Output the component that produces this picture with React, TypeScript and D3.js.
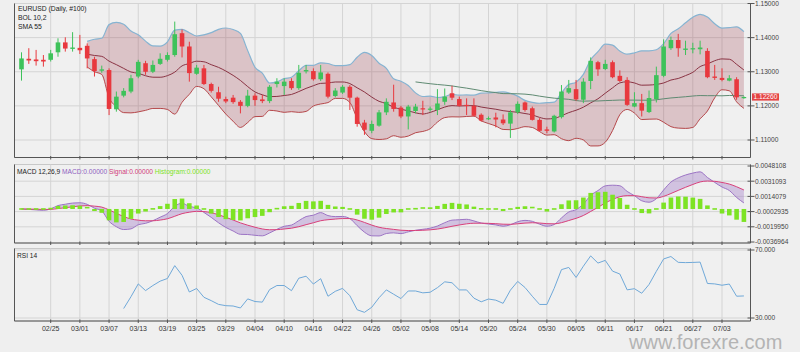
import React, { useEffect, useRef } from 'react';
import * as d3 from 'd3';

// EURUSD daily candles, 2019-02-19 .. 2019-07-08
const openP = [
  1.1307, 1.1338, 1.1336, 1.1335, 1.1335, 1.1357, 1.1386, 1.1367, 1.1370, 1.1376,
  1.1337, 1.1303, 1.1305, 1.1190, 1.1230, 1.1242, 1.1286, 1.1325, 1.1300, 1.1323,
  1.1335, 1.1349, 1.1413, 1.1374, 1.1294, 1.1310, 1.1264, 1.1240, 1.1220, 1.1224,
  1.1212, 1.1200, 1.1230, 1.1219, 1.1214, 1.1264, 1.1258, 1.1273, 1.1252, 1.1301,
  1.1302, 1.1278, 1.1294, 1.1229, 1.1239, 1.1256, 1.1224, 1.1151, 1.1127, 1.1142,
  1.1181, 1.1210, 1.1195, 1.1169, 1.1185, 1.1193, 1.1189, 1.1188, 1.1212, 1.1237,
  1.1220, 1.1203, 1.1200, 1.1174, 1.1162, 1.1166, 1.1160, 1.1148, 1.1181, 1.1210,
  1.1193, 1.1159, 1.1131, 1.1125, 1.1167, 1.1239, 1.1249, 1.1218, 1.1273, 1.1328,
  1.1308, 1.1328, 1.1288, 1.1276, 1.1198, 1.1208, 1.1182, 1.1220, 1.1288, 1.1369,
  1.1393, 1.1364, 1.1367, 1.1366, 1.1361, 1.1286, 1.1282, 1.1274, 1.1278, 1.1224,
];
const highP = [
  1.1357, 1.1369, 1.1364, 1.1349, 1.1364, 1.1398, 1.1401, 1.1416, 1.1408, 1.1383,
  1.1344, 1.1318, 1.1310, 1.1242, 1.1252, 1.1291, 1.1335, 1.1332, 1.1333, 1.1354,
  1.1357, 1.1447, 1.1424, 1.1388, 1.1320, 1.1320, 1.1268, 1.1256, 1.1227, 1.1232,
  1.1217, 1.1247, 1.1237, 1.1232, 1.1261, 1.1281, 1.1281, 1.1281, 1.1320, 1.1320,
  1.1310, 1.1320, 1.1298, 1.1252, 1.1261, 1.1261, 1.1227, 1.1159, 1.1157, 1.1188,
  1.1222, 1.1262, 1.1200, 1.1203, 1.1206, 1.1215, 1.1198, 1.1249, 1.1251, 1.1259,
  1.1227, 1.1222, 1.1222, 1.1178, 1.1169, 1.1180, 1.1175, 1.1188, 1.1213, 1.1213,
  1.1198, 1.1164, 1.1139, 1.1174, 1.1261, 1.1276, 1.1276, 1.1281, 1.1342, 1.1332,
  1.1335, 1.1333, 1.1304, 1.1284, 1.1240, 1.1235, 1.1245, 1.1315, 1.1395, 1.1403,
  1.1411, 1.1391, 1.1385, 1.1391, 1.1369, 1.1320, 1.1310, 1.1290, 1.1284, 1.1228,
];
const lowP = [
  1.1274, 1.1323, 1.1318, 1.1315, 1.1330, 1.1344, 1.1359, 1.1359, 1.1352, 1.1310,
  1.1286, 1.1297, 1.1173, 1.1183, 1.1225, 1.1237, 1.1281, 1.1291, 1.1296, 1.1320,
  1.1330, 1.1344, 1.1342, 1.1271, 1.1291, 1.1261, 1.1239, 1.1212, 1.1208, 1.1206,
  1.1178, 1.1196, 1.1200, 1.1208, 1.1208, 1.1254, 1.1232, 1.1247, 1.1247, 1.1295,
  1.1274, 1.1273, 1.1222, 1.1225, 1.1235, 1.1188, 1.1139, 1.1115, 1.1120, 1.1139,
  1.1173, 1.1183, 1.1164, 1.1131, 1.1178, 1.1173, 1.1183, 1.1173, 1.1203, 1.1217,
  1.1198, 1.1173, 1.1169, 1.1154, 1.1159, 1.1137, 1.1144, 1.1106, 1.1176, 1.1183,
  1.1157, 1.1125, 1.1120, 1.1122, 1.1163, 1.1235, 1.1215, 1.1208, 1.1249, 1.1288,
  1.1305, 1.1281, 1.1270, 1.1200, 1.1196, 1.1169, 1.1179, 1.1210, 1.1284, 1.1364,
  1.1344, 1.1349, 1.1354, 1.1351, 1.1281, 1.1276, 1.1272, 1.1272, 1.1218, 1.1221,
];
const closeP = [
  1.1339, 1.1333, 1.1331, 1.1330, 1.1354, 1.1386, 1.1368, 1.1371, 1.1363, 1.1339,
  1.1302, 1.1307, 1.1191, 1.1227, 1.1244, 1.1281, 1.1329, 1.1300, 1.1320, 1.1338,
  1.1349, 1.1410, 1.1374, 1.1296, 1.1312, 1.1264, 1.1244, 1.1221, 1.1213, 1.1211,
  1.1200, 1.1230, 1.1217, 1.1214, 1.1256, 1.1271, 1.1271, 1.1252, 1.1297, 1.1305,
  1.1278, 1.1298, 1.1227, 1.1245, 1.1256, 1.1224, 1.1147, 1.1130, 1.1147, 1.1181,
  1.1212, 1.1191, 1.1169, 1.1198, 1.1198, 1.1190, 1.1192, 1.1207, 1.1227, 1.1224,
  1.1200, 1.1200, 1.1171, 1.1157, 1.1164, 1.1160, 1.1149, 1.1181, 1.1206, 1.1188,
  1.1159, 1.1127, 1.1127, 1.1171, 1.1242, 1.1252, 1.1219, 1.1271, 1.1332, 1.1307,
  1.1323, 1.1284, 1.1273, 1.1203, 1.1208, 1.1186, 1.1223, 1.1290, 1.1374, 1.1393,
  1.1369, 1.1368, 1.1369, 1.1371, 1.1284, 1.1282, 1.1276, 1.1281, 1.1225, 1.1226,
];

// a date label every 4th bar, starting at bar 4
const tickLabels = [
  '02/25', '03/01', '03/07', '03/13', '03/19', '03/25', '03/29', '04/04', '04/10', '04/16',
  '04/22', '04/26', '05/02', '05/08', '05/14', '05/20', '05/24', '05/30', '06/05', '06/11',
  '06/17', '06/21', '06/27', '07/03',
];
const priceTicks = [1.15, 1.14, 1.13, 1.12, 1.11];
const macdTicks = [0.0048108, 0.0031093, 0.0014079, -0.0002935, -0.001995, -0.0036964];
const macdTickText = ['0.0048108', '0.0031093', '0.0014079', '-0.0002935', '-0.0019950', '-0.0036964'];
const rsiTicks = [70, 30];
const lastPrice = 1.1226;

const FONT = "'Liberation Sans', Arial, sans-serif";

function sma(arr: number[], n: number) {
  return arr.map((_, i) => (i < n - 1 ? null : d3.mean(arr.slice(i - n + 1, i + 1))!));
}
function ema(arr: number[], n: number) {
  const k = 2 / (n + 1);
  let prev = arr[0];
  return arr.map((v, i) => {
    if (i > 0) prev = v * k + prev * (1 - k);
    return prev;
  });
}

const App: React.FC = () => {
  const svgRef = useRef<SVGSVGElement | null>(null);

  useEffect(() => {
    const svg = d3.select(svgRef.current);
    svg.selectAll('*').remove();

    const n = closeP.length;
    const L = 14.5, R = 750.5;
    const main = { top: 3.5, bottom: 157.5 };
    const mac = { top: 164.5, bottom: 243 };
    const rs = { top: 248.5, bottom: 321 };

    const x = d3.scaleLinear().domain([0, n - 1]).range([21.5, 743.9]);
    const yMain = d3.scaleLinear().domain([1.11, 1.15]).range([140, 3.5]);
    const yMacd = d3.scaleLinear().domain([-0.0036964, 0.0048108]).range([242, 166]);
    const yRsi = d3.scaleLinear().domain([30, 70]).range([318, 250]);
    const tickIdx = tickLabels.map((_, k) => 4 + 4 * k);

    // indicators
    const mid = sma(closeP, 10);
    const band = closeP.map((_, i) => {
      if (i < 9) return null;
      const w = closeP.slice(i - 9, i + 1);
      const m = mid[i]!;
      const sd = Math.sqrt(d3.mean(w.map(v => (v - m) ** 2))!);
      return { i, m, up: m + 2 * sd, lo: m - 2 * sd };
    }).filter(Boolean) as { i: number; m: number; up: number; lo: number }[];
    const sma55 = sma(closeP, 55);
    const e12 = ema(closeP, 12), e26 = ema(closeP, 26);
    const macd = closeP.map((_, i) => e12[i] - e26[i]);
    const signal = ema(macd, 9);
    const hist = macd.map((v, i) => v - signal[i]);
    const rsi: { i: number; v: number }[] = [];
    let ag = 0, al = 0;
    for (let i = 1; i < n; i++) {
      const d = closeP[i] - closeP[i - 1];
      const g = Math.max(d, 0), l = Math.max(-d, 0);
      if (i <= 14) { ag += g / 14; al += l / 14; }
      else { ag = (ag * 13 + g) / 14; al = (al * 13 + l) / 14; }
      if (i >= 14) rsi.push({ i, v: al === 0 ? 100 : 100 - 100 / (1 + ag / al) });
    }

    svg.append('rect').attr('width', 800).attr('height', 352).attr('fill', '#efefef');

    const defs = svg.append('defs');
    [['cMain', main], ['cMacd', mac], ['cRsi', rs]].forEach(([id, p]: any) => {
      defs.append('clipPath').attr('id', id).append('rect')
        .attr('x', L).attr('y', p.top).attr('width', R - L).attr('height', p.bottom - p.top);
    });

    // panel frames + grids
    const drawPanel = (p: { top: number; bottom: number }, hLines: number[]) => {
      const g = svg.append('g');
      g.append('rect').attr('x', L).attr('y', p.top).attr('width', R - L).attr('height', p.bottom - p.top)
        .attr('fill', '#f0f0f0').attr('stroke', '#c8c8c8');
      g.selectAll('.v').data(tickIdx).join('line')
        .attr('x1', d => x(d)).attr('x2', d => x(d)).attr('y1', p.top).attr('y2', p.bottom)
        .attr('stroke', '#d4d4d4');
      g.selectAll('.h').data(hLines).join('line')
        .attr('x1', L).attr('x2', R).attr('y1', d => d).attr('y2', d => d)
        .attr('stroke', '#d4d4d4');
      g.append('line').attr('x1', L).attr('x2', L).attr('y1', p.top).attr('y2', p.bottom).attr('stroke', '#555');
      g.append('line').attr('x1', L).attr('x2', R).attr('y1', p.bottom).attr('y2', p.bottom).attr('stroke', '#555');
      g.append('line').attr('x1', R).attr('x2', R).attr('y1', p.top).attr('y2', p.bottom).attr('stroke', '#555');
      g.selectAll('.t').data(tickIdx).join('line')
        .attr('x1', d => x(d)).attr('x2', d => x(d)).attr('y1', p.bottom - 1.5).attr('y2', p.bottom + 2)
        .attr('stroke', '#555');
    };
    drawPanel(main, priceTicks.map(yMain));
    drawPanel(mac, macdTicks.slice(1, 5).map(yMacd));
    drawPanel(rs, rsiTicks.map(yRsi));

    // right axes
    const axisLabels = (vals: number[], ys: (v: number) => number, txt: string[]) => {
      const g = svg.append('g');
      vals.forEach((v, k) => {
        g.append('line').attr('x1', R - 3).attr('x2', R + 4).attr('y1', ys(v)).attr('y2', ys(v)).attr('stroke', '#555');
        g.append('text').attr('x', R + 4.5).attr('y', ys(v)).attr('dy', '0.35em')
          .attr('font-family', FONT).attr('font-size', 6.6).attr('fill', '#444').text(txt[k]);
      });
    };
    axisLabels(priceTicks, yMain, priceTicks.map(d3.format('.5f')));
    axisLabels(macdTicks, yMacd, macdTickText);
    axisLabels(rsiTicks, yRsi, rsiTicks.map(d3.format('.3f')));

    // --- main panel
    const gm = svg.append('g').attr('clip-path', 'url(#cMain)');
    gm.append('path').datum(band)
      .attr('d', d3.area<any>().x(d => x(d.i)).y0(d => yMain(d.lo)).y1(d => yMain(d.up)).curve(d3.curveMonotoneX))
      .attr('fill', '#9a3a4c').attr('fill-opacity', 0.25);
    const line = (key: string, color: string, w = 1) =>
      gm.append('path').datum(band)
        .attr('d', d3.line<any>().x(d => x(d.i)).y(d => yMain(d[key])).curve(d3.curveMonotoneX))
        .attr('fill', 'none').attr('stroke', color).attr('stroke-width', w);
    line('up', '#86b4d2', 1.2);
    line('lo', '#b5474a', 1);
    line('m', '#8a3343', 1);
    const smaPts = sma55.map((v, i) => ({ i, v })).filter(d => d.v !== null) as { i: number; v: number }[];
    gm.append('path').datum(smaPts)
      .attr('d', d3.line<any>().x(d => x(d.i)).y(d => yMain(d.v)).curve(d3.curveMonotoneX))
      .attr('fill', 'none').attr('stroke', '#5f8a72').attr('stroke-width', 1);

    const up = '#3ec25a', dn = '#e8383e';
    const candles = gm.selectAll('.c').data(d3.range(n)).join('g');
    candles.append('line')
      .attr('x1', i => x(i)).attr('x2', i => x(i))
      .attr('y1', i => yMain(highP[i])).attr('y2', i => yMain(lowP[i]))
      .attr('stroke', i => (closeP[i] >= openP[i] ? up : dn)).attr('stroke-width', 1);
    candles.append('rect')
      .attr('x', i => x(i) - 2.3).attr('width', 4.6)
      .attr('y', i => yMain(Math.max(openP[i], closeP[i])))
      .attr('height', i => Math.max(1.2, Math.abs(yMain(openP[i]) - yMain(closeP[i]))))
      .attr('fill', i => (closeP[i] >= openP[i] ? up : dn));

    // last price tag
    svg.append('rect').attr('x', R + 1.5).attr('y', yMain(lastPrice) - 3.6).attr('width', 27).attr('height', 7.2).attr('fill', '#e54444');
    svg.append('text').attr('x', R + 3).attr('y', yMain(lastPrice)).attr('dy', '0.35em')
      .attr('font-family', FONT).attr('font-size', 6.6).attr('fill', '#fff').text(d3.format('.5f')(lastPrice));

    const title = (t: string, y: number) =>
      svg.append('text').attr('x', 18).attr('y', y).attr('font-family', FONT).attr('font-size', 6.8).attr('fill', '#222').text(t);
    title('EURUSD (Daily, #100)', 11);
    title('BOL 10,2', 20);
    title('SMA 55', 29);

    // --- MACD panel
    const gc = svg.append('g').attr('clip-path', 'url(#cMacd)');
    const mPts = d3.range(n).map(i => ({ i, m: macd[i], s: signal[i], h: hist[i] }));
    gc.append('path').datum(mPts)
      .attr('d', d3.area<any>().x(d => x(d.i)).y0(d => yMacd(d.s)).y1(d => yMacd(d.m)).curve(d3.curveMonotoneX))
      .attr('fill', '#a27cc8').attr('fill-opacity', 0.4);
    gc.append('path').datum(mPts)
      .attr('d', d3.line<any>().x(d => x(d.i)).y(d => yMacd(d.m)).curve(d3.curveMonotoneX))
      .attr('fill', 'none').attr('stroke', '#9c74c4').attr('stroke-width', 1);
    gc.append('path').datum(mPts)
      .attr('d', d3.line<any>().x(d => x(d.i)).y(d => yMacd(d.s)).curve(d3.curveMonotoneX))
      .attr('fill', 'none').attr('stroke', '#d8407a').attr('stroke-width', 1);
    const z = yMacd(0);
    gc.selectAll('.h').data(mPts).join('rect')
      .attr('x', d => x(d.i) - 2.3).attr('width', 4.6)
      .attr('y', d => Math.min(z, yMacd(d.h)) - (Math.abs(yMacd(d.h) - z) < 1.6 ? 0.8 : 0))
      .attr('height', d => Math.max(1.6, Math.abs(yMacd(d.h) - z)))
      .attr('fill', '#7de324');

    const mt = svg.append('text').attr('x', 17).attr('y', 174).attr('font-family', FONT).attr('font-size', 6.6);
    mt.append('tspan').attr('fill', '#222').text('MACD 12,26,9 ');
    mt.append('tspan').attr('fill', '#8e5fc0').text('MACD:0.00000 ');
    mt.append('tspan').attr('fill', '#d0407a').text('Signal:0.00000 ');
    mt.append('tspan').attr('fill', '#7de324').text('Histogram:0.00000');

    // --- RSI panel
    const gr = svg.append('g').attr('clip-path', 'url(#cRsi)');
    gr.append('path').datum(rsi)
      .attr('d', d3.line<any>().x(d => x(d.i)).y(d => yRsi(d.v)))
      .attr('fill', 'none').attr('stroke', '#6fa8d8').attr('stroke-width', 1);
    svg.append('text').attr('x', 17).attr('y', 258).attr('font-family', FONT).attr('font-size', 6.6).attr('fill', '#222').text('RSI 14');

    // date labels
    svg.append('g').selectAll('text').data(tickIdx).join('text')
      .attr('x', d => x(d)).attr('y', 331).attr('text-anchor', 'middle')
      .attr('font-family', FONT).attr('font-size', 7).attr('fill', '#333')
      .text((_, k) => tickLabels[k]);

    svg.append('text').attr('x', 629).attr('y', 349).attr('font-family', FONT).attr('font-size', 20)
      .attr('fill', '#b4b4b4').text('www.forexre.com');
  }, []);

  return (
    <svg ref={svgRef} width={800} height={352} style={{ position: 'absolute', left: 0, top: 0 }} />
  );
};

export default App;
